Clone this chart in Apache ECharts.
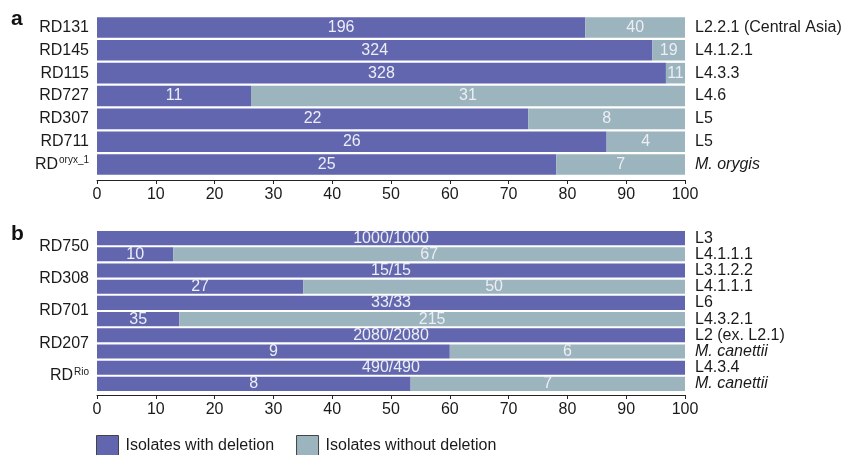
<!DOCTYPE html>
<html>
<head>
<meta charset="utf-8">
<script src="https://cdn.jsdelivr.net/npm/echarts@6/dist/echarts.min.js"></script>
<style>
  html, body { margin: 0; padding: 0; background: #fff; }
  #chart { width: 846px; height: 455px; }
</style>
</head>
<body>
<div id="chart"></div>
<script>
// Panel a: one bar per region of difference
const regionsA = ['RD131', 'RD145', 'RD115', 'RD727', 'RD307', 'RD711', 'RDoryx_1'];
const lineagesA = ['L2.2.1 (Central Asia)', 'L4.1.2.1', 'L4.3.3', 'L4.6', 'L5', 'L5', 'M. orygis'];
const withDelA = [196, 324, 328, 11, 22, 26, 25];
const withoutDelA = [40, 19, 11, 31, 8, 4, 7];

// Panel b: two bars per region (lineage where deleted, lineage checked)
const regionsB = ['RD750', 'RD308', 'RD701', 'RD207', 'RDRio'];
const lineagesB = ['L3', 'L4.1.1.1', 'L3.1.2.2', 'L4.1.1.1', 'L6', 'L4.3.2.1',
                   'L2 (ex. L2.1)', 'M. canettii', 'L4.3.4', 'M. canettii'];
const withDelB = [1000, 10, 15, 27, 33, 35, 2080, 9, 490, 8];
const withoutDelB = [0, 67, 0, 50, 0, 215, 0, 6, 0, 7];

const xTicks = [0, 10, 20, 30, 40, 50, 60, 70, 80, 90, 100];

const COL_WITH = '#6166af';
const COL_WITHOUT = '#9bb4bd';
const FONT = '"Liberation Sans", Arial, Helvetica, sans-serif';

// Superscript parts of region names
const superscripts = { 'RDoryx_1': 'oryx_1', 'RDRio': 'Rio' };

function pct(w, wo) { return w.map((v, i) => v / (v + wo[i]) * 100); }
function rest(p) { return p.map(v => 100 - v); }

function regionLabel(name) {
  const sup = superscripts[name];
  if (sup) return '{n|RD}{s|' + sup + '}';
  return '{n|' + name + '}';
}
function lineageLabel(name) {
  if (name.startsWith('M. ')) return '{i|' + name + '}';
  return '{n|' + name + '}';
}
const richText = {
  n: { fontSize: 16, color: '#1a1a1a', fontFamily: FONT, lineHeight: 18 },
  s: { fontSize: 10, color: '#1a1a1a', fontFamily: FONT, verticalAlign: 'top', lineHeight: 10, padding: [0, 0, 0, 1] },
  i: { fontSize: 16, color: '#1a1a1a', fontFamily: FONT, fontStyle: 'italic', lineHeight: 18 }
};

function xAxisFor(gridIndex, offset) {
  return {
    type: 'value', gridIndex: gridIndex, min: 0, max: 100, interval: 10,
    offset: offset,
    axisLine: { show: true, lineStyle: { color: '#222', width: 1 } },
    axisTick: { show: true, length: 4, lineStyle: { color: '#222' } },
    axisLabel: { fontSize: 16, color: '#1a1a1a', fontFamily: FONT, margin: 7,
                 formatter: v => xTicks.includes(v) ? String(v) : '' },
    splitLine: { show: false }
  };
}

function catAxis(gridIndex, data, position, formatter, margin) {
  return {
    type: 'category', gridIndex: gridIndex, data: data, position: position, inverse: true,
    axisLine: { show: false }, axisTick: { show: false },
    axisLabel: { formatter: formatter, rich: richText, margin: margin, interval: 0 }
  };
}

const valueLabel = (counts, otherCounts, fullLabel) => ({
  show: true, position: 'inside', fontSize: 16, color: '#eceef4', fontFamily: FONT,
  formatter: p => {
    const w = counts[p.dataIndex];
    if (w === 0) return '';
    if (fullLabel && otherCounts[p.dataIndex] === 0) return w + '/' + w;
    return String(w);
  }
});

const pA = pct(withDelA, withoutDelA);
const pB = pct(withDelB, withoutDelB);

const option = {
  animation: false,
  backgroundColor: '#fff',
  textStyle: { fontFamily: FONT },
  grid: [
    { left: 97, width: 588, top: 16, height: 160 },
    { left: 97, width: 588, top: 230, height: 162 }
  ],
  xAxis: [xAxisFor(0, 4), xAxisFor(1, 3)],
  yAxis: [
    catAxis(0, regionsA, 'left', regionLabel, 8),
    catAxis(0, lineagesA, 'right', lineageLabel, 10),
    catAxis(1, regionsB, 'left', regionLabel, 8),
    catAxis(1, lineagesB, 'right', lineageLabel, 10)
  ],
  legend: {
    left: 91, top: 430, itemWidth: 22, itemHeight: 21, itemGap: 22,
    icon: 'rect',
    itemStyle: { borderColor: '#444', borderWidth: 1 },
    textStyle: { fontSize: 16, color: '#1a1a1a', fontFamily: FONT, padding: [0, 0, 0, 2] },
    data: ['Isolates with deletion', 'Isolates without deletion']
  },
  series: [
    { name: 'Isolates with deletion', type: 'bar', stack: 'a', xAxisIndex: 0, yAxisIndex: 0,
      barCategoryGap: '10%', data: pA, itemStyle: { color: COL_WITH },
      label: valueLabel(withDelA, withoutDelA, false) },
    { name: 'Isolates without deletion', type: 'bar', stack: 'a', xAxisIndex: 0, yAxisIndex: 0,
      barCategoryGap: '10%', data: rest(pA), itemStyle: { color: COL_WITHOUT },
      label: valueLabel(withoutDelA, withDelA, false) },
    { name: 'Isolates with deletion', type: 'bar', stack: 'b', xAxisIndex: 1, yAxisIndex: 3,
      barCategoryGap: '13%', data: pB, itemStyle: { color: COL_WITH },
      label: valueLabel(withDelB, withoutDelB, true) },
    { name: 'Isolates without deletion', type: 'bar', stack: 'b', xAxisIndex: 1, yAxisIndex: 3,
      barCategoryGap: '13%', data: rest(pB), itemStyle: { color: COL_WITHOUT },
      label: valueLabel(withoutDelB, withDelB, false) }
  ],
  graphic: [
    { type: 'text', left: 11, top: 9, style: { text: 'a', fontSize: 21, fontWeight: 'bold', fill: '#111', fontFamily: FONT } },
    { type: 'text', left: 11, top: 224, style: { text: 'b', fontSize: 21, fontWeight: 'bold', fill: '#111', fontFamily: FONT } }
  ]
};

const chart = echarts.init(document.getElementById('chart'), null, { renderer: 'canvas' });
chart.setOption(option);
</script>
</body>
</html>
